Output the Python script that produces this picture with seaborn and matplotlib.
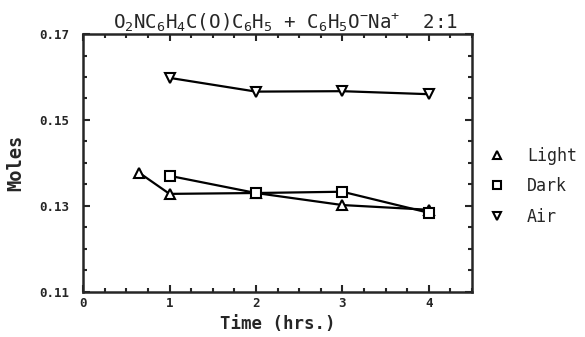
import numpy as np
import pandas as pd
import matplotlib
matplotlib.use("Agg")
import matplotlib.pyplot as plt
import seaborn as sns
from matplotlib.ticker import MultipleLocator

# data
light_time = [0.65, 1, 2, 3, 4]
light_moles = [0.1377, 0.1328, 0.1330, 0.1302, 0.1291]
dark_time = [1, 2, 3, 4]
dark_moles = [0.1370, 0.1330, 0.1333, 0.1284]
air_time = [1, 2, 3, 4]
air_moles = [0.1598, 0.1566, 0.1567, 0.1560]

df = pd.concat([
    pd.DataFrame({'time': light_time, 'moles': light_moles, 'cond': 'Light'}),
    pd.DataFrame({'time': dark_time, 'moles': dark_moles, 'cond': 'Dark'}),
    pd.DataFrame({'time': air_time, 'moles': air_moles, 'cond': 'Air'}),
], ignore_index=True)

sns.set_style("ticks")
plt.rcParams['font.family'] = ['DejaVu Sans Mono', 'DejaVu Sans']
plt.rcParams['mathtext.fontset'] = 'custom'
plt.rcParams['mathtext.rm'] = 'DejaVu Sans Mono'
plt.rcParams['mathtext.it'] = 'DejaVu Sans Mono'

fig = plt.figure(figsize=(5.85, 3.37), dpi=100)
ax = fig.add_axes([0.142, 0.134, 0.665, 0.765])

sns.lineplot(data=df, x='time', y='moles', style='cond', sort=False,
             markers={'Light': '^', 'Dark': 's', 'Air': 'v'}, dashes=False,
             color='black', linewidth=1.6, markersize=7,
             markerfacecolor='white', markeredgecolor='black', markeredgewidth=1.5,
             ax=ax)

ax.set_xlim(0, 4.5)
ax.set_ylim(0.11, 0.17)
ax.set_xticks([0, 1, 2, 3, 4])
ax.set_yticks([0.11, 0.13, 0.15, 0.17])
ax.set_yticklabels(['0.11', '0.13', '0.15', '0.17'], fontweight='bold', fontsize=9)
ax.set_xticklabels(['0', '1', '2', '3', '4'], fontweight='bold', fontsize=9)
ax.xaxis.set_minor_locator(MultipleLocator(0.25))
ax.yaxis.set_minor_locator(MultipleLocator(0.005))
ax.tick_params(which='both', direction='in', top=True, right=True, width=1.5)
ax.tick_params(which='major', length=5)
ax.tick_params(which='minor', length=3)
ax.tick_params(axis='y', which='major', pad=10)
for s in ax.spines.values():
    s.set_linewidth(1.8)

ax.set_xlabel('Time (hrs.)', fontsize=12.5, fontweight='bold')
ax.set_ylabel('Moles', fontsize=13.5, fontweight='bold', labelpad=10)
ax.set_title(r'O$_2$NC$_6$H$_4$C(O)C$_6$H$_5$ + C$_6$H$_5$O$^{-}$Na$^{+}$  2:1',
             fontsize=13.8, pad=4, x=0.52)

sns.move_legend(ax, 'center left', bbox_to_anchor=(1.0, 0.41), frameon=False,
                title=None, fontsize=12, handlelength=1.2, handletextpad=1.2,
                labelspacing=0.75)
for line in ax.get_legend().get_lines():
    line.set_linestyle('none')
    line.set_markersize(5.5)

fig.savefig('out.png', dpi=100)
